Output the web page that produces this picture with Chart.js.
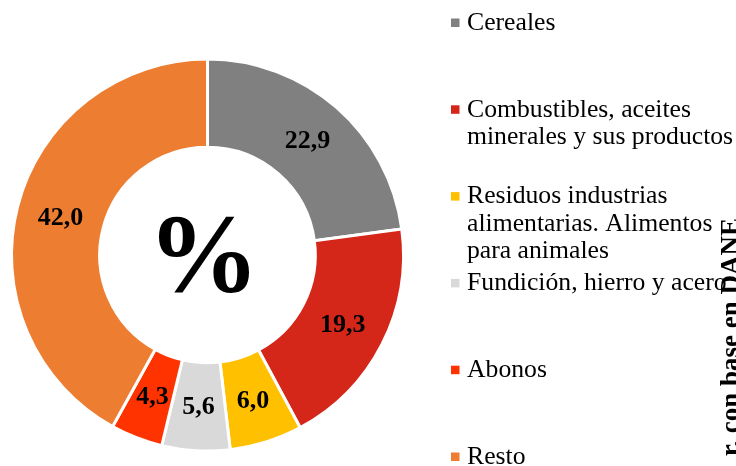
<!DOCTYPE html>
<html>
<head>
<meta charset="utf-8">
<script src="https://cdn.jsdelivr.net/npm/chart.js@4.4.1/dist/chart.umd.min.js"></script>
<style>
  html, body { margin: 0; padding: 0; background: #ffffff; }
  #c { display: block; }
</style>
</head>
<body>
<canvas id="c" width="736" height="466"></canvas>
<script>
// ---- data ----
const categories = [
  ["Cereales"],
  ["Combustibles, aceites", "minerales y sus productos"],
  ["Residuos industrias", "alimentarias. Alimentos", "para animales"],
  ["Fundición, hierro y acero"],
  ["Abonos"],
  ["Resto"]
];
const shares = [22.9, 19.3, 6.0, 5.6, 4.3, 42.0];
const sliceColors = ["#808080", "#D42619", "#FFC000", "#D9D9D9", "#FF3300", "#ED7D31"];
const centerText = "%";
const sourceText = "r, con base en DANE";

const SERIF = '"Liberation Serif", "DejaVu Serif", serif';

const valueLabels = {
  id: 'valueLabels',
  afterDatasetsDraw(chart) {
    const ctx = chart.ctx;
    const meta = chart.getDatasetMeta(0);
    ctx.save();
    ctx.font = 'bold 26px ' + SERIF;
    ctx.fillStyle = '#000';
    ctx.textAlign = 'center';
    ctx.textBaseline = 'middle';
    meta.data.forEach((arc, i) => {
      const p = arc.tooltipPosition();
      const v = chart.data.datasets[0].data[i];
      ctx.fillText(v.toFixed(1).replace('.', ','), p.x, p.y + 1);
    });
    // center symbol
    const a0 = meta.data[0];
    ctx.font = 'bold 112px ' + SERIF;
    ctx.fillText(centerText, a0.x - 4, a0.y + 8);
    ctx.restore();
  }
};

const sideLegend = {
  id: 'sideLegend',
  afterDraw(chart) {
    const ctx = chart.ctx;
    const labels = chart.data.labels;
    const cols = chart.data.datasets[0].backgroundColor;
    const x0 = 451, tx = 467, y0 = 23, step = 86.8, lh = 27.5;
    ctx.save();
    ctx.font = '25.7px ' + SERIF;
    ctx.textAlign = 'left';
    ctx.textBaseline = 'middle';
    labels.forEach((lines, i) => {
      const y = y0 + i * step;
      ctx.fillStyle = cols[i];
      ctx.fillRect(x0, y - 4.5, 8.5, 8.5);
      ctx.fillStyle = '#000';
      lines.forEach((t, j) => ctx.fillText(t, tx, y + j * lh));
    });
    // cropped vertical source note at the right edge
    ctx.translate(739, 218);
    ctx.rotate(-Math.PI / 2);
    ctx.font = 'bold 27px ' + SERIF;
    ctx.textAlign = 'right';
    ctx.textBaseline = 'alphabetic';
    ctx.fillText(sourceText, 0, 0);
    ctx.restore();
  }
};

new Chart(document.getElementById('c'), {
  type: 'doughnut',
  data: {
    labels: categories,
    datasets: [{
      data: shares,
      backgroundColor: sliceColors,
      borderColor: '#ffffff',
      borderWidth: 3,
      hoverBorderWidth: 3
    }]
  },
  options: {
    responsive: false,
    animation: false,
    devicePixelRatio: 1,
    cutout: '55%',
    layout: { padding: { left: 10, right: 331, top: 57.5, bottom: 13.5 } },
    plugins: {
      legend: { display: false },
      tooltip: { enabled: false }
    },
    events: []
  },
  plugins: [valueLabels, sideLegend]
});
</script>
</body>
</html>
